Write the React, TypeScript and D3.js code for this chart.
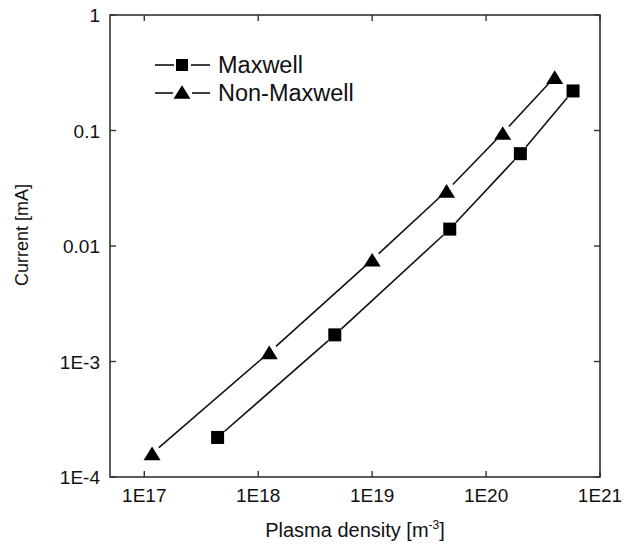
import React from "react";
import * as d3 from "d3";

const xTicks = [1e17, 1e18, 1e19, 1e20, 1e21];
const xTickLabels = ["1E17", "1E18", "1E19", "1E20", "1E21"];
const yTicks = [1e-4, 1e-3, 1e-2, 1e-1, 1];
const yTickLabels = ["1E-4", "1E-3", "0.01", "0.1", "1"];

const maxwellX = [4.4e17, 4.7e18, 4.8e19, 2.0e20, 5.8e20];
const maxwellY = [2.2e-4, 1.7e-3, 0.014, 0.063, 0.22];
const nonMaxwellX = [1.17e17, 1.25e18, 1.0e19, 4.5e19, 1.4e20, 4.0e20];
const nonMaxwellY = [1.6e-4, 1.2e-3, 7.6e-3, 0.030, 0.095, 0.29];

const W = 624, H = 550;
const L = 110, R = 600, T = 15, B = 477;

export default function App() {
  const x = d3.scaleLog().domain([5e16, 1e21]).range([L, R]);
  const y = d3.scaleLog().domain([1e-4, 1]).range([B, T]);
  const font = "'Liberation Sans', Arial, Helvetica, sans-serif";

  const segs = (xs: number[], ys: number[], gap: number) => {
    const out: JSX.Element[] = [];
    for (let i = 0; i < xs.length - 1; i++) {
      const x1 = x(xs[i]), y1 = y(ys[i]), x2 = x(xs[i + 1]), y2 = y(ys[i + 1]);
      const dx = x2 - x1, dy = y2 - y1, len = Math.hypot(dx, dy);
      const ux = dx / len, uy = dy / len;
      out.push(
        <line key={i} x1={x1 + ux * gap} y1={y1 + uy * gap} x2={x2 - ux * gap} y2={y2 - uy * gap}
          stroke="#111" strokeWidth={1.6} />
      );
    }
    return out;
  };
  const tri = (cx: number, cy: number, s = 17) => {
    const h = s * 0.8;
    return `M${cx - s / 2},${cy + h / 2}L${cx + s / 2},${cy + h / 2}L${cx},${cy - h / 2}Z`;
  };
  const sq = 13;

  return (
    <svg width={W} height={H} style={{ position: "absolute", left: 0, top: 0, background: "#fff" }}
      fontFamily={font}>
      <rect x={0} y={0} width={W} height={H} fill="#fff" />
      {/* frame */}
      <rect x={L} y={T} width={R - L} height={B - T} fill="none" stroke="#333" strokeWidth={1.6} />
      {xTicks.map((t, i) => (
        <g key={"xt" + i}>
          <line x1={x(t)} x2={x(t)} y1={B} y2={B - 6} stroke="#333" strokeWidth={1.4} />
          <line x1={x(t)} x2={x(t)} y1={T} y2={T + 6} stroke="#333" strokeWidth={1.4} />
          <text x={x(t)} y={502} fontSize={19} textAnchor="middle" fill="#111">{xTickLabels[i]}</text>
        </g>
      ))}
      {yTicks.map((t, i) => (
        <g key={"yt" + i}>
          <line x1={L} x2={L + 6} y1={y(t)} y2={y(t)} stroke="#333" strokeWidth={1.4} />
          <line x1={R} x2={R - 6} y1={y(t)} y2={y(t)} stroke="#333" strokeWidth={1.4} />
          <text x={100} y={y(t) + 7} fontSize={19} textAnchor="end" fill="#111">{yTickLabels[i]}</text>
        </g>
      ))}
      {/* axis titles */}
      <text x={355} y={537} fontSize={20} textAnchor="middle" fill="#111">
        Plasma density [m<tspan dy={-8} fontSize={12}>-3</tspan><tspan dy={8}>]</tspan>
      </text>
      <text transform="translate(28,235) rotate(-90)" fontSize={18} textAnchor="middle" fill="#111">
        Current [mA]
      </text>
      {/* series */}
      {segs(maxwellX, maxwellY, 9)}
      {segs(nonMaxwellX, nonMaxwellY, 9)}
      {maxwellX.map((v, i) => (
        <rect key={"m" + i} x={x(v) - sq / 2} y={y(maxwellY[i]) - sq / 2} width={sq} height={sq} fill="#000" />
      ))}
      {nonMaxwellX.map((v, i) => (
        <path key={"n" + i} d={tri(x(v), y(nonMaxwellY[i]))} fill="#000" />
      ))}
      {/* legend */}
      <g>
        <line x1={155} x2={174} y1={65} y2={65} stroke="#111" strokeWidth={1.6} />
        <line x1={191} x2={210} y1={65} y2={65} stroke="#111" strokeWidth={1.6} />
        <rect x={182 - 6} y={65 - 6} width={12} height={12} fill="#000" />
        <text x={218} y={73} fontSize={23.5} fill="#111">Maxwell</text>
        <line x1={155} x2={173} y1={93} y2={93} stroke="#111" strokeWidth={1.6} />
        <line x1={192} x2={210} y1={93} y2={93} stroke="#111" strokeWidth={1.6} />
        <path d={tri(182, 92, 17)} fill="#000" />
        <text x={218} y={101} fontSize={23.5} fill="#111">Non-Maxwell</text>
      </g>
    </svg>
  );
}
